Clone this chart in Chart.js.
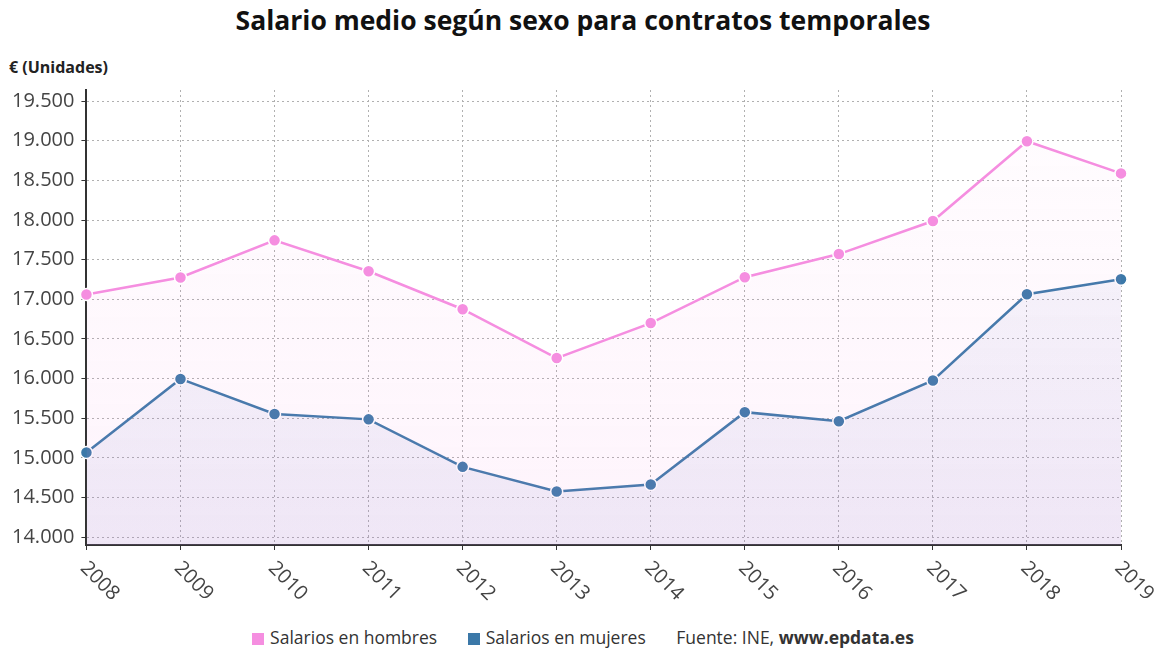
<!DOCTYPE html>
<html>
<head>
<meta charset="utf-8">
<script src="https://cdn.jsdelivr.net/npm/chart.js@4/dist/chart.umd.min.js"></script>
<style>
  html, body { margin: 0; padding: 0; background: #fff; }
  body { width: 1166px; height: 652px; position: relative; overflow: hidden; font-family: 'Open Sans', sans-serif; }
  #title { position: absolute; top: 2px; left: 0; width: 1166px; text-align: center; font-size: 26.5px; font-weight: bold; color: #111; }
  #unit { position: absolute; top: 56px; left: 9px; font-size: 16px; font-weight: bold; color: #222; }
  #wrap { position: absolute; top: 0; left: 0; width: 1166px; height: 615px; }
  #legend { position: absolute; top: 625px; left: 0; width: 1166px; text-align: center; font-size: 17.5px; color: #333; }
  #legend span.item { margin: 0 13px; }
  #legend i { display: inline-block; width: 12px; height: 12px; margin-right: 6px; vertical-align: -1px; }
</style>
</head>
<body>
<div id="title">Salario medio según sexo para contratos temporales</div>
<div id="unit">€ (Unidades)</div>
<div id="wrap"><canvas id="chart"></canvas></div>
<div id="legend">
  <span class="item"><i style="background:#f58ee0"></i>Salarios en hombres</span>
  <span class="item"><i style="background:#3b78a8"></i>Salarios en mujeres</span>
  <span class="item">Fuente: INE, <b>www.epdata.es</b></span>
</div>
<script>
const years = ['2008', '2009', '2010', '2011', '2012', '2013', '2014', '2015', '2016', '2017', '2018', '2019'];
const hombres = [17060, 17275, 17743, 17353, 16874, 16258, 16700, 17278, 17570, 17987, 18993, 18588];
const mujeres = [15066, 15995, 15553, 15485, 14886, 14575, 14664, 15576, 15462, 15975, 17063, 17252];
const yTicks = [14000, 14500, 15000, 15500, 16000, 16500, 17000, 17500, 18000, 18500, 19000, 19500];

function fmt(v) {
  return String(v).replace(/\B(?=(\d{3})+(?!\d))/g, '.');
}

function gradient(ctx, top, bottom) {
  const area = ctx.chart.chartArea;
  if (!area) return bottom;
  const g = ctx.chart.ctx.createLinearGradient(0, area.top, 0, area.bottom);
  g.addColorStop(0, top);
  g.addColorStop(1, bottom);
  return g;
}

// x labels rotated clockwise, drawn from the scale positions
const xLabels = {
  id: 'xLabels',
  afterDraw(c) {
    const x = c.scales.x;
    const ctx = c.ctx;
    ctx.save();
    ctx.font = '20px "Open Sans"';
    ctx.fillStyle = '#444';
    ctx.textAlign = 'left';
    ctx.textBaseline = 'middle';
    years.forEach((y, i) => {
      const px = x.getPixelForValue(i);
      ctx.save();
      ctx.translate(px - 3, x.top + 20);
      ctx.rotate(Math.PI / 4);
      ctx.fillText(y, 0, 0);
      ctx.restore();
    });
    ctx.restore();
  }
};

new Chart(document.getElementById('chart'), {
  type: 'line',
  data: {
    labels: years,
    datasets: [{
      label: 'Salarios en hombres',
      data: hombres,
      borderColor: '#f58ee0',
      borderWidth: 2.5,
      pointBackgroundColor: '#f58ee0',
      pointBorderColor: '#fff',
      pointBorderWidth: 1.5,
      pointRadius: 6,
      tension: 0,
      fill: 'origin',
      backgroundColor: ctx => gradient(ctx, 'rgba(245,142,224,0.02)', 'rgba(245,142,224,0.10)'),
    }, {
      label: 'Salarios en mujeres',
      data: mujeres,
      borderColor: '#3b78a8',
      borderWidth: 2.5,
      pointBackgroundColor: '#3b78a8',
      pointBorderColor: '#fff',
      pointBorderWidth: 1.5,
      pointRadius: 6,
      tension: 0,
      fill: 'origin',
      backgroundColor: ctx => gradient(ctx, 'rgba(90,110,190,0.03)', 'rgba(70,90,180,0.09)'),
    }],
  },
  options: {
    responsive: true,
    maintainAspectRatio: false,
    animation: false,
    layout: { padding: { top: 90, right: 45, bottom: 65, left: 5 } },
    plugins: {
      legend: { display: false },
      tooltip: { enabled: false },
    },
    scales: {
      x: {
        offset: false,
        grid: { color: '#b0b0b0', tickColor: '#333', tickLength: 5, lineWidth: 1 },
        border: { color: '#333', width: 2, dash: [2, 3] },
        ticks: { display: false },
      },
      y: {
        min: 13900,
        max: 19640,
        afterBuildTicks: axis => { axis.ticks = yTicks.map(v => ({ value: v })); },
        grid: { color: '#b0b0b0', tickColor: '#333', tickLength: 5, lineWidth: 1 },
        border: { color: '#333', width: 2, dash: [2, 3] },
        ticks: {
          color: '#444',
          font: { family: 'Open Sans', size: 20 },
          padding: 7,
          callback: v => fmt(v),
        },
      },
    },
  },
  plugins: [xLabels],
});
</script>
</body>
</html>
